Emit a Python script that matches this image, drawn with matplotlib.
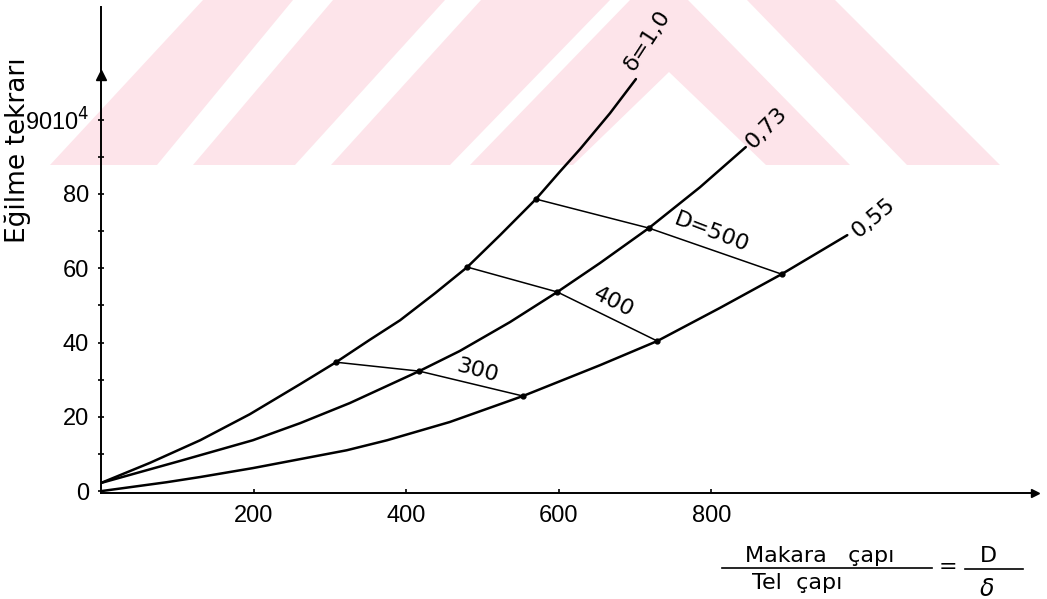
import matplotlib
matplotlib.use("Agg")
import matplotlib.pyplot as plt
from matplotlib.patches import Polygon
from matplotlib.lines import Line2D

W, H = 1047, 599

# bending repetitions (x10^4) against D/delta, one curve per wire diameter
x_10 = [0, 64, 130, 195, 261, 308, 352, 392, 438, 480, 523, 570, 601, 628, 667, 701]
y_10 = [2.2, 7.6, 13.7, 20.7, 28.8, 34.7, 40.7, 46.0, 53.3, 60.3, 68.9, 78.6,
        85.9, 92.1, 101.7, 110.9]

x_073 = [0, 103, 199, 261, 326, 417, 470, 536, 598, 654, 718, 785, 845]
y_073 = [2.2, 8.1, 13.7, 18.3, 23.7, 32.3, 37.7, 45.5, 53.6, 61.4, 70.8, 81.8, 92.6]

x_055 = [0, 86, 130, 199, 322, 375, 457, 553, 654, 729, 811, 892, 978]
y_055 = [0.0, 2.4, 3.8, 6.2, 11.0, 13.7, 18.6, 25.6, 33.9, 40.4, 49.3, 58.4, 68.9]

curve_labels = ["δ=1,0", "0,73", "0,55"]

# constant pulley diameter lines (points on delta = 1.0 / 0.73 / 0.55)
D_values = [300, 400, 500]
D_x = [[308, 417, 553], [480, 598, 729], [570, 718, 892]]
D_y = [[34.7, 32.3, 25.6], [60.3, 53.6, 40.4], [78.6, 70.8, 58.4]]

x_ticks = [200, 400, 600, 800]
y_ticks = [0, 20, 40, 60, 80, 100]
y_ticklabels = ["0", "20", "40", "60", "80", "9010$^4$"]


def fx(x):
    return x / W


def fy(y):
    return 1 - y / H


fig = plt.figure(figsize=(W / 100, H / 100), dpi=100)

# pale stamp in the top band
stamp = [
    [(50, 165), (157, 165), (293, 0), (203, 0)],
    [(193, 165), (295, 165), (445, 0), (333, 0)],
    [(331, 165), (450, 165), (610, 0), (481, 0)],
    [(470, 165), (573, 165), (669, 72), (766, 165), (850, 165), (688, 0), (630, 0)],
    [(907, 165), (1000, 165), (835, 0), (747, 0)],
]
for poly in stamp:
    fig.add_artist(Polygon([(fx(a), fy(b)) for a, b in poly], closed=True,
                           facecolor="#fde4ea", edgecolor="none",
                           transform=fig.transFigure, zorder=0))

ax = fig.add_axes([101 / W, 106 / H, 934 / W, 486 / H])
ax.set_facecolor("none")
ax.set_xlim(0, 1224)
ax.set_ylim(-0.5, 130.3)

curves = [(x_10, y_10), (x_073, y_073), (x_055, y_055)]
lab_style = [(12, 39, 57), (21, 19, 45), (26, 17, 40)]
for (xs, ys), txt, (dx, dy, rot) in zip(curves, curve_labels, lab_style):
    ax.plot(xs, ys, color="k", lw=1.8, solid_capstyle="round",
            solid_joinstyle="round")
    ax.annotate(txt, xy=(xs[-1], ys[-1]), xytext=(dx, dy),
                textcoords="offset pixels", ha="center", va="center",
                rotation=rot, rotation_mode="anchor", fontsize=16)

d_style = [(6, 13, -15), (6, 14, -27), (-4, 19, -21)]
for i, d in enumerate(D_values):
    ax.plot(D_x[i], D_y[i], color="k", lw=1.1)
    ax.plot(D_x[i], D_y[i], "o", ms=3.5, color="k")
    txt = "D=%d" % d if i == len(D_values) - 1 else str(d)
    mx = (D_x[i][1] + D_x[i][2]) / 2
    my = (D_y[i][1] + D_y[i][2]) / 2
    dx, dy, rot = d_style[i]
    ax.annotate(txt, xy=(mx, my), xytext=(dx, dy), textcoords="offset pixels",
                ha="center", va="center", rotation=rot,
                rotation_mode="anchor", fontsize=16)

for s in ["top", "right"]:
    ax.spines[s].set_visible(False)
for s in ["left", "bottom"]:
    ax.spines[s].set_linewidth(1.4)

# arrow heads on the axes
ax.plot([1], [0], marker=">", ms=6, color="k", transform=ax.transAxes, clip_on=False)
ax.plot([0], [112], marker="^", ms=7, color="k", clip_on=False)

ax.set_xticks(x_ticks)
ax.set_yticks(y_ticks)
ax.set_yticklabels(y_ticklabels)
ax.set_yticks(range(10, 100, 20), minor=True)
ax.tick_params(axis="x", direction="in", length=3, width=1.2, pad=9, labelsize=17)
ax.tick_params(axis="y", direction="inout", length=5, width=1.2, pad=6, labelsize=17)
ax.tick_params(axis="y", which="minor", direction="inout", length=4, width=1.2)
for lab in ax.get_xticklabels() + ax.get_yticklabels():
    lab.set_fontfamily(["Liberation Sans", "DejaVu Sans"])

fig.text(fx(18), fy(150), "Eğilme tekrarı", rotation=90, ha="center",
         va="center", fontsize=19)

# x axis title written as a fraction
fig.text(fx(820), fy(562), "Makara   çapı", ha="center", va="baseline", fontsize=16)
fig.add_artist(Line2D([fx(722), fx(932)], [fy(568), fy(568)], color="k", lw=1.2))
fig.text(fx(797), fy(589), "Tel  çapı", ha="center", va="baseline", fontsize=16)
fig.text(fx(948), fy(567), "=", ha="center", va="center", fontsize=16)
fig.text(fx(988), fy(562), "D", ha="center", va="baseline", fontsize=16)
fig.add_artist(Line2D([fx(965), fx(1023)], [fy(569), fy(569)], color="k", lw=1.2))
fig.text(fx(987), fy(596), "δ", ha="center", va="baseline", fontsize=17, style="italic")

fig.savefig("out.png", dpi=100)
